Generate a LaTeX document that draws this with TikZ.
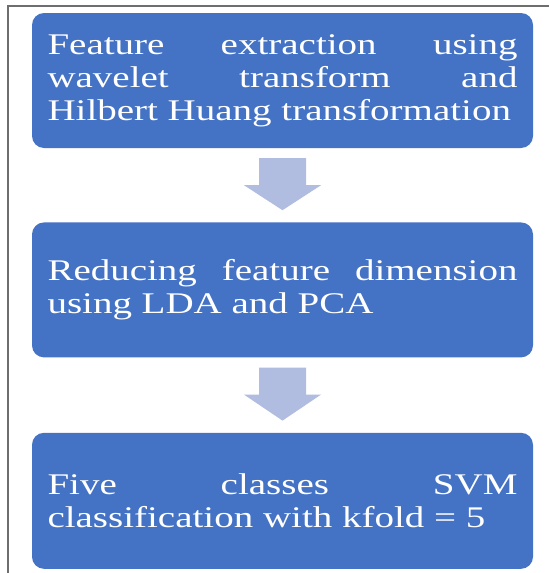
\documentclass[tikz,border=0pt]{standalone}
\usepackage{fontspec}
\setmainfont{Liberation Serif}[FakeStretch=1.3]
\usetikzlibrary{positioning, calc}

\definecolor{boxblue}{RGB}{68,114,196}
\definecolor{arrowblue}{RGB}{176,188,224}
\definecolor{framegray}{RGB}{110,110,110}

\tikzset{
  stepbox/.style={fill=boxblue, rounded corners=12pt, minimum width=501pt,
    minimum height=135pt, text width=470pt, align=justify, text=white,
    font=\fontsize{30}{33}\selectfont, inner sep=0pt},
  arrowfill/.style={fill=arrowblue}
}

\begin{document}
\begin{tikzpicture}[x=1pt, y=-1pt]
\useasboundingbox (0,0) rectangle (549,573);

% Frame (left and top only)
\draw[framegray, line width=1.2pt] (8,573) -- (8,6) -- (549,6);

% Steps
\node[stepbox] (feat) at (282.5,80.5) {Feature extraction using\linebreak wavelet transform and\linebreak Hilbert Huang transformation};
\node[stepbox, below=74pt of feat] (reduce) {Reducing feature dimension\linebreak using LDA and PCA\par};
\node[stepbox, below=75pt of reduce, minimum height=136pt] (classify) {Five classes SVM\linebreak classification with kfold = 5\par};

% Block arrows between the steps
\foreach \a/\b in {feat/reduce, reduce/classify} {
  \fill[arrowfill] ($(\a.south)+(-23.5,10)$) -- ++(47,0) -- ++(0,27) -- ++(15,0)
    -- ($(\b.north)+(0,-12)$) -- ($(\a.south)+(-38.5,37)$) -- ++(15,0) -- cycle;
}

\end{tikzpicture}
\end{document}
